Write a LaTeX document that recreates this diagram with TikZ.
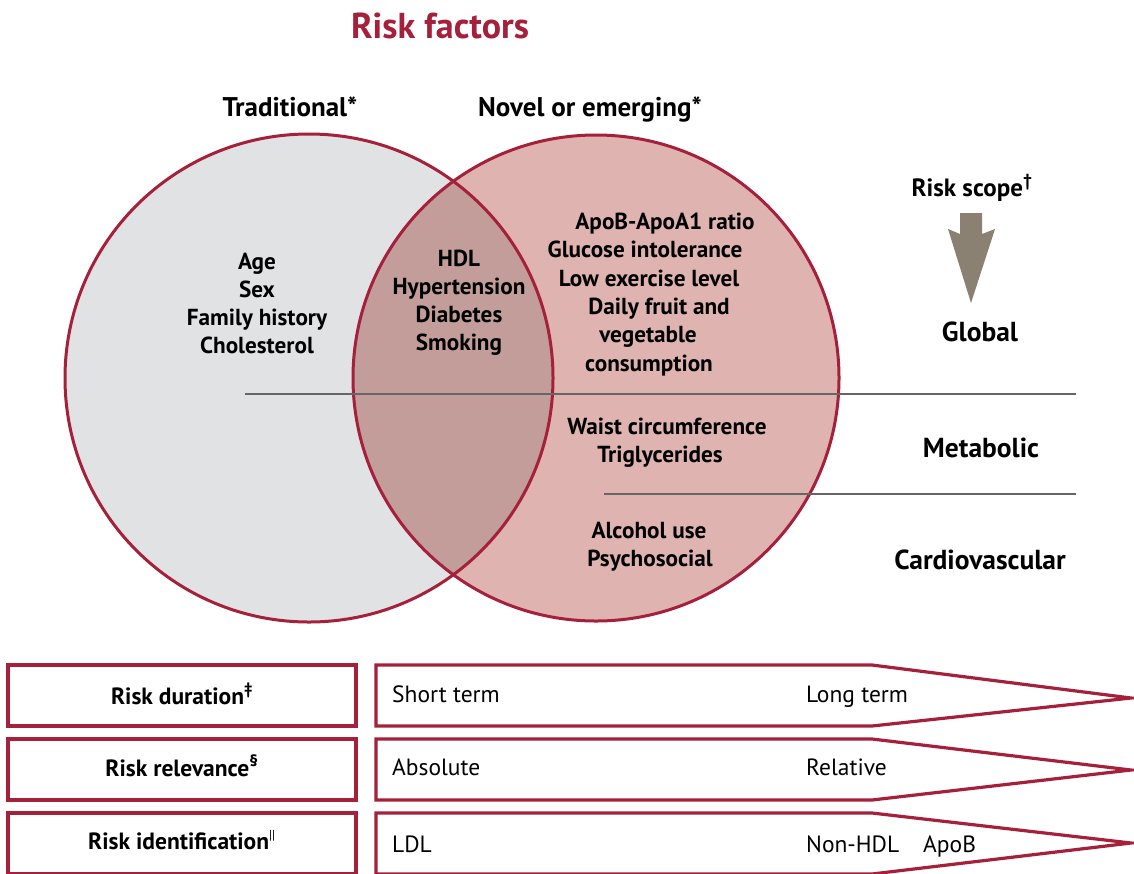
\documentclass[tikz,border=0pt]{standalone}
\usepackage{fontspec}
\setmainfont{PT Sans}
\definecolor{crim}{HTML}{A5203B}
\definecolor{tradfill}{HTML}{E1E2E4}
\definecolor{novelfill}{HTML}{DFB3AF}
\definecolor{lensfill}{HTML}{C29D99}
\definecolor{rule}{HTML}{666666}
\definecolor{scopearrow}{HTML}{8A8172}
\begin{document}
\begin{tikzpicture}[x=1pt,y=-1pt,
  every node/.style={inner sep=0pt, text=black},
  title/.style={font=\fontsize{36}{40}\selectfont\bfseries, text=crim, anchor=base},
  head/.style={font=\fontsize{27}{30}\selectfont\bfseries, anchor=base},
  scopehead/.style={font=\fontsize{25}{28}\selectfont\bfseries, anchor=base},
  scopelbl/.style={font=\fontsize{27.5}{30}\selectfont\bfseries, anchor=base},
  factor/.style={font=\fontsize{23.2}{28}\selectfont\bfseries, align=center},
  line/.style={font=\fontsize{23.2}{28}\selectfont\bfseries, anchor=base},
  ring/.style={draw=crim, line width=3pt},
  divider/.style={draw=rule, line width=2.2pt},
  labelbox/.style={draw=crim, line width=3.2pt, fill=white},
  scalebar/.style={draw=crim, line width=3.2pt, fill=white, line join=miter},
  boxlbl/.style={font=\fontsize{23.5}{26}\selectfont\bfseries, anchor=base},
  scaletxt/.style={font=\fontsize{23.5}{26}\selectfont, anchor=base west}
]
\useasboundingbox (0,0) rectangle (1134,873);

% Venn diagram fills
\fill[tradfill] (309,378) circle (244pt);
\fill[novelfill] (596,378) circle (243pt);
\begin{scope}
  \clip (309,378) circle (244pt);
  \fill[lensfill] (596,378) circle (243pt);
\end{scope}
\draw[ring] (309,378) circle (244pt);
\draw[ring] (596,378) circle (243pt);

% scope dividers
\coordinate (d1a) at (245,394);
\coordinate (d1b) at (1076,394);
\coordinate (d2a) at (604,494);
\coordinate (d2b) at (1076,494);
\draw[divider] (d1a) -- (d1b);
\draw[divider] (d2a) -- (d2b);

% headings
\node[title] (ttl) at (440,38) {Risk factors};
\node[head] (trad) at (290,116) {Traditional*};
\node[head] (novel) at (590,116) {Novel or emerging*};

% traditional factors
\node[factor] (tradlist) at (257,303) {Age\\Sex\\Family history\\Cholesterol};
% shared factors
\node[factor] (shared) at (459,303) {HDL\\Hypertension\\Diabetes\\Smoking};
% novel factors, global scope
\node[line] (n1) at (665,229) {ApoB-ApoA1 ratio};
\node[line] (n2) at (645,257) {Glucose intolerance};
\node[line] (n3) at (649,286) {Low exercise level};
\node[line] (n4) at (659,314) {Daily fruit and};
\node[line] (n5) at (648,342) {vegetable};
\node[line] (n6) at (649,371) {consumption};
% metabolic
\node[line] (m1) at (667,434) {Waist circumference};
\node[line] (m2) at (660,462) {Triglycerides};
% cardiovascular
\node[line] (c1) at (649,538) {Alcohol use};
\node[line] (c2) at (650,566) {Psychosocial};

% risk scope
\node[scopehead] (scope) at (972,196) {Risk scope\textsuperscript{†}};
\fill[scopearrow] (960,213) -- (982,213) -- (982,234) -- (995,229) -- (971,303)
  -- (948,229) -- (960,234) -- cycle;
\node[scopelbl] (glob) at (980,341) {Global};
\node[scopelbl] (meta) at (981,457) {Metabolic};
\node[scopelbl] (cardio) at (980,569) {Cardiovascular};

% bottom rows
\draw[labelbox] (8,665) rectangle (356,726);
\draw[labelbox] (8,739) rectangle (356,800);
\draw[labelbox] (8,813) rectangle (356,874);
\node[boxlbl] (dur) at (182,704) {Risk duration\textsuperscript{‡}};
\node[boxlbl] (rel) at (182,776) {Risk relevance\textsuperscript{§}};
\node[boxlbl] (ident) at (182,849) {Risk identification\textsuperscript{\mdseries\fontsize{13}{13}\selectfont||}};

\draw[scalebar] (376,665) -- (872,665) -- (1131,698) -- (872,726) -- (376,726) -- cycle;
\draw[scalebar] (376,739) -- (872,739) -- (1131,770) -- (872,800) -- (376,800) -- cycle;
\draw[scalebar] (376,813) -- (872,813) -- (1131,843) -- (872,874) -- (376,874) -- cycle;

\node[scaletxt] (st) at (392,702) {Short term};
\node[scaletxt] (lt) at (806,702) {Long term};
\node[scaletxt] (ab) at (392,775) {Absolute};
\node[scaletxt] (rl) at (806,775) {Relative};
\node[scaletxt] (ldl) at (392,852) {LDL};
\node[scaletxt] (nh) at (806,852) {Non-HDL};
\node[scaletxt] (apob) at (923,852) {ApoB};
\end{tikzpicture}
\end{document}
